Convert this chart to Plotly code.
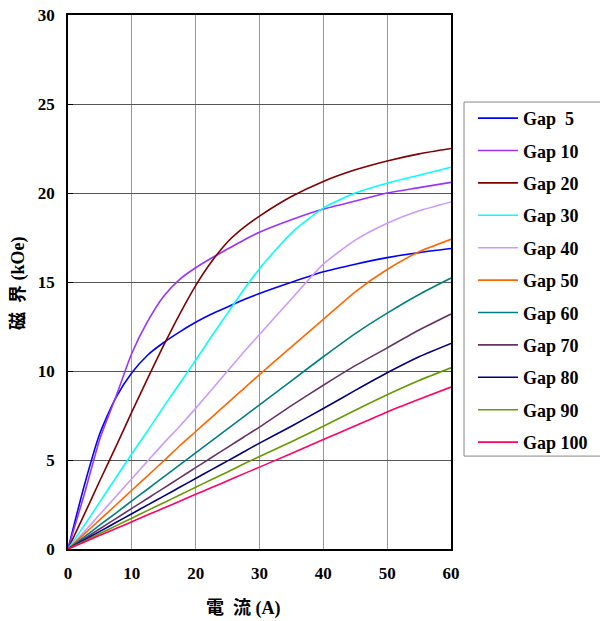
import plotly.graph_objects as go

current_a = [0, 2.5, 5, 7.5, 10, 12.5, 15, 17.5, 20, 22.5, 25, 27.5, 30, 35, 40, 45, 50, 55, 60]

gap_5 = [0, 3.5, 6.5, 8.5, 9.9, 10.9, 11.6, 12.2, 12.74, 13.2, 13.6, 14.0, 14.35, 14.98, 15.57, 16.0, 16.37, 16.65, 16.88]
gap_10 = [0, 3.0, 6.2, 8.55, 11.0, 12.8, 14.2, 15.15, 15.8, 16.35, 16.85, 17.35, 17.8, 18.5, 19.1, 19.55, 20.0, 20.3, 20.6]
gap_20 = [0, 1.9, 3.85, 5.75, 7.7, 9.6, 11.45, 13.2, 14.8, 16.15, 17.25, 18.05, 18.7, 19.8, 20.65, 21.3, 21.8, 22.2, 22.5]
gap_30 = [0, 1.3, 2.65, 4.0, 5.35, 6.65, 8.0, 9.3, 10.6, 11.95, 13.25, 14.55, 15.75, 17.75, 19.15, 20.0, 20.55, 21.0, 21.45]
gap_40 = [0, 0.95, 1.95, 2.95, 3.95, 4.95, 5.95, 6.9, 7.9, 8.95, 10.0, 11.05, 12.05, 14.05, 16.0, 17.35, 18.3, 19.0, 19.5]
gap_50 = [0, 0.82, 1.65, 2.47, 3.3, 4.12, 4.95, 5.8, 6.6, 7.4, 8.2, 9.0, 9.8, 11.35, 12.9, 14.45, 15.7, 16.7, 17.4]
gap_60 = [0, 0.67, 1.35, 2.02, 2.7, 3.37, 4.05, 4.72, 5.4, 6.07, 6.75, 7.42, 8.1, 9.45, 10.8, 12.1, 13.25, 14.3, 15.22]
gap_70 = [0, 0.57, 1.14, 1.71, 2.28, 2.85, 3.42, 4.0, 4.57, 5.14, 5.71, 6.28, 6.85, 8.05, 9.2, 10.3, 11.3, 12.3, 13.2]
gap_80 = [0, 0.5, 0.99, 1.49, 1.98, 2.48, 2.97, 3.47, 3.96, 4.46, 4.95, 5.45, 5.95, 6.9, 7.89, 8.91, 9.9, 10.8, 11.55]
gap_90 = [0, 0.43, 0.87, 1.3, 1.73, 2.17, 2.6, 3.03, 3.47, 3.9, 4.33, 4.77, 5.2, 6.03, 6.9, 7.8, 8.67, 9.47, 10.18]
gap_100 = [0, 0.38, 0.77, 1.15, 1.53, 1.92, 2.3, 2.68, 3.07, 3.45, 3.83, 4.22, 4.6, 5.37, 6.15, 6.92, 7.7, 8.41, 9.1]

series_names = ["Gap\u00a0\u00a05", "Gap 10", "Gap 20", "Gap 30", "Gap 40", "Gap 50",
                "Gap 60", "Gap 70", "Gap 80", "Gap 90", "Gap 100"]
series_values = [gap_5, gap_10, gap_20, gap_30, gap_40, gap_50, gap_60, gap_70, gap_80, gap_90, gap_100]
series_colors = ["#0000FF", "#9933FF", "#800000", "#00FFFF", "#CC99FF", "#FF6600",
                 "#008080", "#663366", "#000080", "#669900", "#FF0066"]

x_ticks = [0, 10, 20, 30, 40, 50, 60]
y_ticks = [0, 5, 10, 15, 20, 25, 30]
x_title = "電\u2002流 (A)"
y_title = "磁\u2002界 (kOe)"

FONT = "Liberation Serif, Noto Sans CJK JP, serif"

fig = go.Figure()
for i, (name, vals, col) in enumerate(zip(series_names, series_values, series_colors)):
    fig.add_trace(go.Scatter(
        x=current_a, y=vals, name=name, mode="lines",
        line=dict(color=col, width=1.6, shape="spline", smoothing=0.6),
        legendgroup=f"g{i}",
    ))

fig.update_layout(
    width=600, height=621,
    margin=dict(l=68, r=149, t=15, b=72, autoexpand=False),
    paper_bgcolor="white", plot_bgcolor="white",
    font=dict(family=FONT, size=17, color="black", weight="bold"),
    showlegend=True,
    legend=dict(
        x=1.0574, xanchor="left", y=0.841, yanchor="top",
        borderwidth=0, bgcolor="rgba(0,0,0,0)",
        font=dict(family=FONT, size=18, color="black", weight="bold"),
        tracegroupgap=6, itemwidth=40,
    ),
    shapes=[
        dict(type="rect", xref="paper", yref="paper",
             x0=1.034, x1=1.45, y0=0.174, y1=0.837,
             line=dict(color="#888888", width=1), fillcolor="white", layer="below"),
    ],
    xaxis=dict(
        range=[0, 60], tickvals=x_ticks, ticktext=[str(v) for v in x_ticks],
        showgrid=True, gridcolor="#999999", gridwidth=1,
        showline=True, linecolor="black", linewidth=1.5, mirror=True,
        ticks="", zeroline=False, ticklabelstandoff=8, ticklabeloverflow="allow",
    ),
    yaxis=dict(
        range=[0, 30], tickvals=y_ticks, ticktext=[str(v) for v in y_ticks],
        showgrid=True, gridcolor="#555555", gridwidth=1,
        showline=True, linecolor="black", linewidth=1.5, mirror=True,
        ticks="inside", ticklen=5, tickcolor="black", zeroline=False,
        ticklabelstandoff=8, ticklabeloverflow="allow",
    ),
    annotations=[
        dict(text=x_title, xref="paper", yref="paper", x=0.4595, y=-0.1105,
             xanchor="center", yanchor="middle", showarrow=False,
             font=dict(family=FONT, size=18, color="black", weight="bold")),
        dict(text=y_title, xref="paper", yref="paper", x=-0.1305, y=0.498,
             xanchor="center", yanchor="middle", showarrow=False, textangle=-90,
             font=dict(family=FONT, size=18, color="black", weight="bold")),
    ],
)

fig.write_html("out.html", config={"displayModeBar": False},
               post_script="document.body.style.margin='0px';")
